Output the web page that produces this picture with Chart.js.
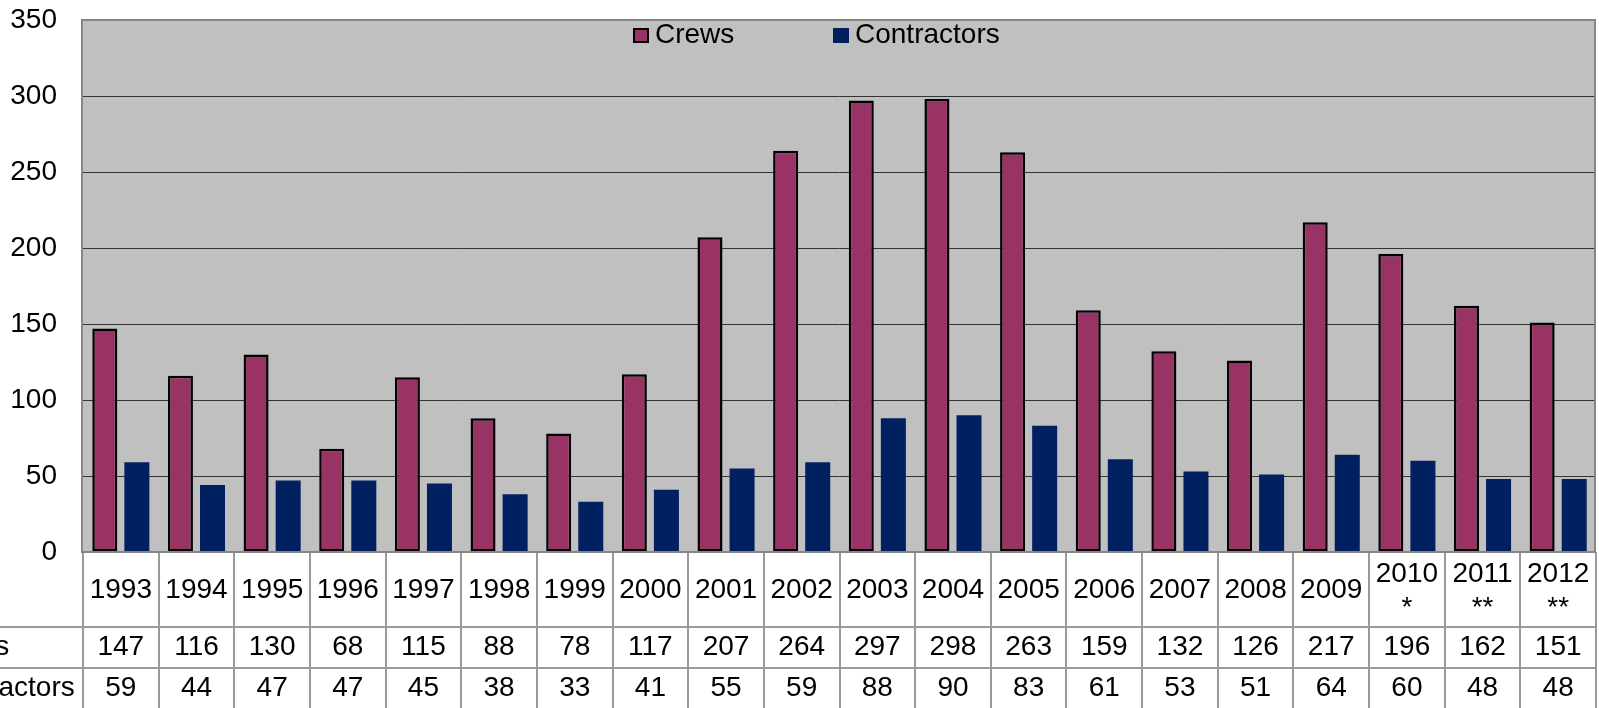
<!DOCTYPE html>
<html><head><meta charset="utf-8">
<script src="https://cdn.jsdelivr.net/npm/chart.js@4/dist/chart.umd.min.js"></script>
<style>html,body{margin:0;padding:0;background:#fff;overflow:hidden}canvas{display:block}</style>
</head><body>
<canvas id="c" width="1599" height="708"></canvas>
<script>
const categories = ['1993','1994','1995','1996','1997','1998','1999','2000','2001','2002','2003','2004','2005','2006','2007','2008','2009',['2010','*'],['2011','**'],['2012','**']];
const seriesNames = ['Crews','Contractors'];
const crews = [147,116,130,68,115,88,78,117,207,264,297,298,263,159,132,126,217,196,162,151];
const contractors = [59,44,47,47,45,38,33,41,55,59,88,90,83,61,53,51,64,60,48,48];
const yMin = 0, yMax = 350, yStep = 50;

const FONT = '"Liberation Sans", Arial, sans-serif';
const FS = 28;
const CREW_COLOR = '#993366', CONTR_COLOR = '#002060';

const tablePlugin = {
  id: 'tbl',
  beforeDraw(chart) {
    const {ctx, chartArea: a} = chart;
    ctx.save();
    ctx.fillStyle = '#C0C0C0';
    ctx.fillRect(a.left, a.top, a.right - a.left, a.bottom - a.top);
    ctx.restore();
  },
  afterDraw(chart) {
    const {ctx, chartArea: a} = chart;
    const x = chart.scales.x;
    const n = categories.length;
    const catW = (a.right - a.left) / n;
    ctx.save();
    // plot border
    ctx.strokeStyle = '#868686';
    ctx.lineWidth = 2;
    ctx.strokeRect(a.left - 1, a.top, a.right - a.left, a.bottom - a.top);
    // table
    const hdrBottom = a.bottom + 75, r1Bottom = hdrBottom + 41, r2Bottom = r1Bottom + 41;
    ctx.strokeStyle = '#9a9a9a';
    ctx.lineWidth = 2;
    ctx.beginPath();
    ctx.moveTo(0, hdrBottom); ctx.lineTo(a.right, hdrBottom);
    ctx.moveTo(0, r1Bottom); ctx.lineTo(a.right, r1Bottom);
    for (let i = 0; i <= n; i++) {
      const px = Math.round(x.getPixelForValue(i) - catW / 2);
      const xx = i === n ? a.right : px;
      ctx.moveTo(xx, a.bottom); ctx.lineTo(xx, r2Bottom + 5);
    }
    ctx.stroke();
    // axis line
    ctx.strokeStyle = '#868686';
    ctx.beginPath(); ctx.moveTo(a.left - 2, a.bottom); ctx.lineTo(a.right, a.bottom); ctx.stroke();

    ctx.fillStyle = '#000';
    ctx.font = FS + 'px ' + FONT;
    ctx.textAlign = 'center';
    ctx.textBaseline = 'middle';
    const hdrMid = (a.bottom + hdrBottom) / 2 + 1;
    for (let i = 0; i < n; i++) {
      const cx = x.getPixelForValue(i);
      const lab = categories[i];
      if (Array.isArray(lab)) {
        ctx.fillText(lab[0], cx, hdrMid - 16);
        ctx.fillText(lab[1], cx, hdrMid + 18);
      } else {
        ctx.fillText(lab, cx, hdrMid);
      }
      ctx.fillText(String(crews[i]), cx, (hdrBottom + r1Bottom) / 2);
      ctx.fillText(String(contractors[i]), cx, (r1Bottom + r2Bottom) / 2);
    }
    ctx.textAlign = 'left';
    ctx.fillText(seriesNames[0], -70, (hdrBottom + r1Bottom) / 2);
    ctx.fillText(seriesNames[1], -70, (r1Bottom + r2Bottom) / 2);

    // legend
    const lx = a.left + 550, ly = a.top + 15;
    const items = [{name: seriesNames[0], color: CREW_COLOR, border: true, x: lx},
                   {name: seriesNames[1], color: CONTR_COLOR, border: false, x: lx + 200}];
    ctx.textBaseline = 'alphabetic';
    items.forEach(it => {
      ctx.fillStyle = it.color;
      ctx.fillRect(it.x, ly - 7, 16, 15);
      if (it.border) { ctx.strokeStyle = '#000'; ctx.lineWidth = 2; ctx.strokeRect(it.x + 1, ly - 6, 14, 13); }
      ctx.fillStyle = '#000';
      ctx.fillText(it.name, it.x + 22, ly + 8);
    });
    ctx.restore();
  }
};

new Chart(document.getElementById('c'), {
  type: 'bar',
  data: {
    labels: categories,
    datasets: [
      {label: seriesNames[0], data: crews, backgroundColor: CREW_COLOR, borderColor: '#000', borderWidth: 2.5, borderSkipped: false,
       categoryPercentage: 0.848, barPercentage: 0.78},
      {label: seriesNames[1], data: contractors, backgroundColor: CONTR_COLOR, borderWidth: 0,
       categoryPercentage: 0.848, barPercentage: 0.78}
    ]
  },
  options: {
    responsive: false, animation: false, devicePixelRatio: 1,
    layout: {padding: {left: 0, top: 20, right: 3, bottom: 156}},
    plugins: {legend: {display: false}, tooltip: {enabled: false}},
    scales: {
      x: {display: false},
      y: {
        min: yMin, max: yMax,
        ticks: {stepSize: yStep, color: '#000', font: {size: FS, family: FONT}, padding: 26},
        grid: {drawTicks: false, color: c => (c.tick.value === yMin || c.tick.value === yMax) ? 'rgba(0,0,0,0)' : '#333', lineWidth: 1},
        border: {display: false},
        afterFit: s => { s.width = 83; s.paddingTop = 0; s.paddingBottom = 0; }
      }
    }
  },
  plugins: [tablePlugin]
});
</script>
</body></html>
